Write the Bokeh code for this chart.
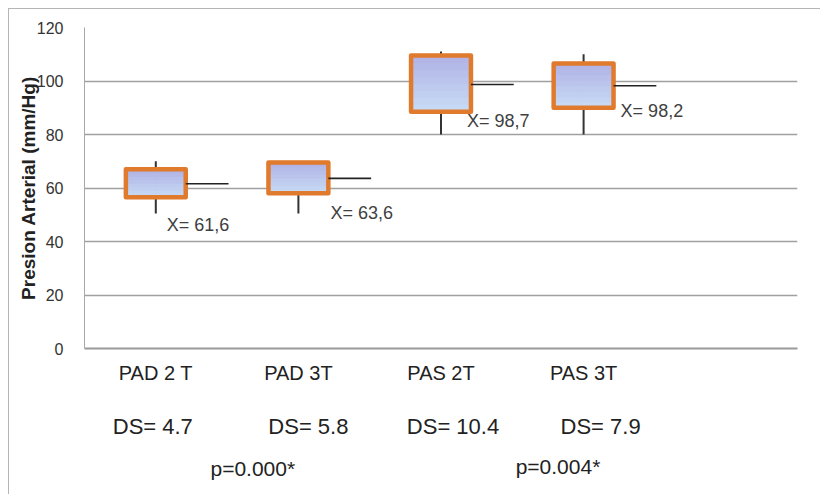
from bokeh.plotting import figure
from bokeh.layouts import column
from bokeh.models import ColumnDataSource, Range1d, FactorRange, FixedTicker
from bokeh.transform import dodge
from bokeh.embed import file_html
from bokeh.resources import INLINE
from bokeh.core.properties import value

# ---- data ----
categories = ["PAD 2 T", "PAD 3T", "PAS 2T", "PAS 3T"]
q1 = [56.5, 58.0, 88.5, 90.0]            # box bottom
q3 = [67.0, 69.5, 109.5, 106.5]          # box top
whisker_low = [50.5, 50.5, 80.0, 80.0]
whisker_high = [70.0, 69.5, 111.0, 110.0]
means = [61.6, 63.6, 98.7, 98.2]
mean_labels = ["X= 61,6", "X= 63,6", "X= 98,7", "X= 98,2"]
ds_labels = ["DS= 4.7", "DS= 5.8", "DS= 10.4", "DS= 7.9"]
p_labels = ["p=0.000*", "p=0.004*"]
p_pairs = ["PAD 2 T", "PAS 2T"]          # first category of each compared pair
y_ticks = [0, 20, 40, 60, 80, 100, 120]

# ---- styling: text placement ----
mean_lbl_dx = [11, 32, 26, 37]        # px
mean_lbl_dy = [41, 35, 37, 25]        # px
ds_dx = [-3, 10, 12, 17]              # px
p_dx = [97, 117]                      # px from first category of pair
DS_Y, P_Y = -29.2, -45.0              # text rows below the axis (axis units)
FONT = "Liberation Sans"

factors = categories + [" "]
x_range = FactorRange(factors=factors)

# ---------------- main chart ----------------
p = figure(width=811, height=381, x_range=x_range, y_range=Range1d(0, 120),
           output_backend="svg", toolbar_location=None,
           min_border_left=75, min_border_right=23, min_border_top=18,
           min_border_bottom=42)
p.outline_line_color = None
p.background_fill_color = "white"
p.border_fill_color = "white"

p.yaxis.ticker = FixedTicker(ticks=y_ticks)
p.yaxis.axis_line_color = "#a8a8a8"
p.yaxis.axis_line_width = 1
p.yaxis.major_tick_line_color = None
p.yaxis.major_tick_out = 0
p.yaxis.major_tick_in = 0
p.yaxis.minor_tick_line_color = None
p.yaxis.major_label_standoff = 21
p.yaxis.major_label_text_font = FONT
p.yaxis.major_label_text_font_size = "16px"
p.yaxis.major_label_text_color = "#333333"
p.yaxis.axis_label = "Presion Arterial (mm/Hg)"
p.yaxis.axis_label_text_font = FONT
p.yaxis.axis_label_text_font_style = "bold"
p.yaxis.axis_label_text_font_size = "19px"
p.yaxis.axis_label_text_color = "#222222"
p.yaxis.axis_label_standoff = -5

p.xaxis.axis_line_color = "#9a9a9a"
p.xaxis.axis_line_width = 2
p.xaxis.major_tick_line_color = None
p.xaxis.major_tick_out = 0
p.xaxis.major_tick_in = 0
p.xaxis.minor_tick_line_color = None
p.xaxis.major_label_standoff = 13
p.xaxis.major_label_text_font = FONT
p.xaxis.major_label_text_font_size = "20px"
p.xaxis.major_label_text_color = "#222222"

p.xgrid.grid_line_color = None
p.ygrid.ticker = FixedTicker(ticks=y_ticks)
p.ygrid.grid_line_color = "#a0a0a0"
p.ygrid.grid_line_width = 1.5

src = ColumnDataSource(dict(cats=categories, q1=q1, q3=q3, lo=whisker_low,
                            hi=whisker_high, means=means, mlab=mean_labels,
                            dx=mean_lbl_dx, dy=mean_lbl_dy))

# whiskers
p.segment(x0="cats", y0="lo", x1="cats", y1="hi", source=src,
          line_color="#333333", line_width=2)

# gradient-like fill of boxes (bands derived from q1/q3)
n_bands = 8
top_rgb = (176, 178, 228)
bot_rgb = (200, 220, 246)
for k in range(n_bands):
    f0 = k / n_bands
    f1 = (k + 1) / n_bands
    fm = (f0 + f1) / 2
    rgb = tuple(int(round(bot_rgb[i] + (top_rgb[i] - bot_rgb[i]) * fm)) for i in range(3))
    col = "#%02x%02x%02x" % rgb
    bb = [a + (b - a) * f0 for a, b in zip(q1, q3)]
    tt = [a + (b - a) * f1 for a, b in zip(q1, q3)]
    p.vbar(x=categories, width=0.42, bottom=bb, top=tt, fill_color=col,
           line_color=col, line_width=1)

# box outline
p.vbar(x="cats", width=0.42, bottom="q1", top="q3", source=src,
       fill_color=None, line_color="#e07a2c", line_width=4.5, line_join="round")

# mean lines
p.segment(x0=dodge("cats", 0.21, range=x_range), y0="means",
          x1=dodge("cats", 0.51, range=x_range), y1="means", source=src,
          line_color="#222222", line_width=1.6)

# mean labels
p.text(x="cats", y="means", text="mlab", x_offset="dx", y_offset="dy", source=src,
       text_align="left", text_baseline="middle", text_font=value(FONT),
       text_font_size="18px", text_color="#404040")

# ---------------- text rows under the chart (same x scale) ----------------
q = figure(width=811, height=104, x_range=x_range, y_range=Range1d(-54.6, -15.7),
           output_backend="svg", toolbar_location=None,
           min_border_left=75, min_border_right=23, min_border_top=0,
           min_border_bottom=0)
q.xaxis.visible = False
q.yaxis.visible = False
q.grid.grid_line_color = None
q.outline_line_color = None
q.background_fill_color = "white"
q.border_fill_color = "white"

q.text(x=categories, y=[DS_Y] * len(categories), text=ds_labels, x_offset=ds_dx,
       text_align="center", text_baseline="middle", text_font=value(FONT),
       text_font_size="22px", text_color="#222222")
q.text(x=p_pairs, y=[P_Y, P_Y + 1.0], text=p_labels, x_offset=p_dx,
       text_align="center", text_baseline="middle", text_font=value(FONT),
       text_font_size="21px", text_color="#222222")

layout = column(p, q, spacing=0)
layout.styles = {"margin-left": "8px", "margin-top": "8px",
                 "border-top": "1px solid #b5b5b5", "border-left": "1px solid #b5b5b5"}

open("out.html", "w").write(file_html(layout, INLINE))
